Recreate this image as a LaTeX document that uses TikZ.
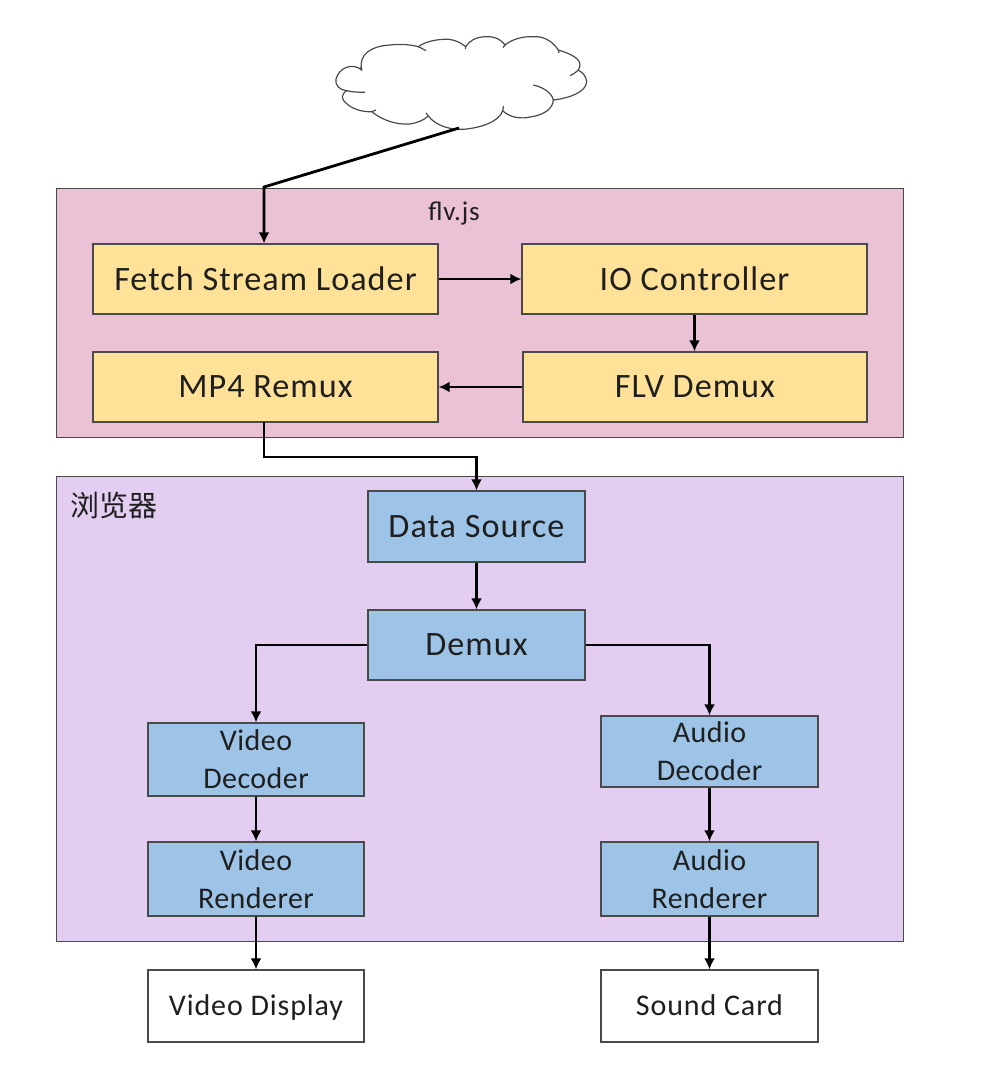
\documentclass[tikz,border=0pt]{standalone}
\usepackage{fontspec}
\setmainfont{Carlito}
\newfontfamily\cjk{Noto Sans CJK SC}
\newfontfamily\wide[LetterSpace=3.0]{Carlito}
\newfontfamily\lesswide[LetterSpace=1.5]{Carlito}
\usetikzlibrary{arrows.meta}
\definecolor{panelpink}{HTML}{EBC1D6}
\definecolor{panelpurple}{HTML}{E3CEF1}
\definecolor{boxyellow}{HTML}{FFE298}
\definecolor{boxblue}{HTML}{9DC3E6}
\definecolor{edgegray}{HTML}{4A4A4A}
\definecolor{inkdark}{HTML}{1F1F1F}
\tikzset{
  x=1pt,y=-1pt,
  panel/.style={draw=edgegray,line width=1.3pt,inner sep=0pt,anchor=north west},
  block/.style={draw=edgegray,line width=1.3pt,inner sep=0pt,anchor=center,align=center,text=inkdark,
    font=\wide\fontsize{34.2}{38.5}\selectfont},
  twoline/.style={font=\lesswide\fontsize{30}{38}\selectfont},
  yellowblock/.style={block,fill=boxyellow},
  blueblock/.style={block,fill=boxblue},
  whiteblock/.style={block,fill=white,font=\wide\fontsize{30}{38}\selectfont,text height=19pt,text depth=0pt},
  link/.style={draw=black,line width=2.8pt,-{Latex[length=11pt,width=11pt]}},
  cloudline/.style={draw=edgegray,line width=1.2pt},
}
\begin{document}
\begin{tikzpicture}
\useasboundingbox (0,0) rectangle (1004,1072);
\fill[white] (0,0) rectangle (1004,1072);
% panels
\node[panel,fill=panelpink,minimum width=847pt,minimum height=249pt] (flvpanel) at (56,188) {};
\node[panel,fill=panelpurple,minimum width=847pt,minimum height=465pt] (browser) at (56,476) {};
\node[text=inkdark,font=\wide\fontsize{27}{30}\selectfont] (flvlabel) at (454,214) {flv.js};
\node[text=inkdark,font=\cjk\fontsize{29}{32}\selectfont] (browserlabel) at (113.5,505.5) {浏览器};
% cloud
\filldraw[cloudline,fill=white] (361.7,70)
 .. controls (352,62) and (339,68) .. (336,79)
 .. controls (335,86) and (340,90) .. (346.7,90.7)
 .. controls (340,95) and (342,100) .. (346,103)
 .. controls (352,109) and (362,112) .. (371.7,111.7)
 .. controls (382,120) and (396,125) .. (410,124)
 .. controls (416,123) and (423,121) .. (428.3,116)
 .. controls (436,126) and (451,130) .. (463.3,129.3)
 .. controls (480,128) and (499,122) .. (502.7,110.7)
 .. controls (510,118) and (522,119) .. (530,117)
 .. controls (545,115) and (553,108) .. (553.3,100)
 .. controls (570,98) and (586,92) .. (586.7,81.7)
 .. controls (586,76) and (583,73) .. (578.3,70)
 .. controls (583,62) and (578,56) .. (558.3,50)
 .. controls (552,40) and (542,36) .. (533.3,36.7)
 .. controls (522,36) and (511,40) .. (505,45)
 .. controls (500,38) and (492,36) .. (485,36.7)
 .. controls (476,37) and (469,41) .. (465.7,46.7)
 .. controls (459,41) and (450,38.5) .. (443.3,39.3)
 .. controls (432,40) and (423,43) .. (418.3,46.7)
 .. controls (408,44) and (398,44) .. (390,45)
 .. controls (372,46) and (358,54) .. (361.7,70) -- cycle;
\draw[cloudline] (346.7,90.7) .. controls (352,92) and (358,92.3) .. (365,92.3);
\draw[cloudline] (361.7,70) -- (360.5,67);
\draw[cloudline] (418.3,46.7) .. controls (421,48) and (424,49.5) .. (426,50.7);
\draw[cloudline] (465.7,46.7) -- (465.5,49);
\draw[cloudline] (505,45) -- (503,47.5);
\draw[cloudline] (558.3,50) -- (559,53);
\draw[cloudline] (578.3,70) .. controls (575,73) and (573,74.5) .. (570,75.7);
\draw[cloudline] (553.3,100) .. controls (552,93) and (543,87) .. (533.3,85);
\draw[cloudline] (502.7,110.7) -- (503.5,106);
\draw[cloudline] (428.3,116) -- (426,113);
\draw[cloudline] (371.7,111.7) -- (376,110);
% boxes
\node[yellowblock,minimum width=345pt,minimum height=70pt] (fetch) at (265.5,279) {Fetch Stream Loader};
\node[yellowblock,minimum width=345pt,minimum height=70pt] (io) at (694.5,279) {IO Controller};
\node[yellowblock,minimum width=345pt,minimum height=70pt] (mp4) at (265.5,387) {MP4 Remux};
\node[yellowblock,minimum width=344pt,minimum height=70pt] (flv) at (695,387) {FLV Demux};
\node[blueblock,minimum width=217pt,minimum height=71pt] (source) at (476.5,526.5) {Data Source};
\node[blueblock,minimum width=217pt,minimum height=70pt] (demux) at (476.5,645) {Demux};
\node[blueblock,twoline,minimum width=216pt,minimum height=73pt] (vdec) at (256,759.5) {Video\\Decoder};
\node[blueblock,twoline,minimum width=216pt,minimum height=74pt] (vren) at (256,879) {Video\\Renderer};
\node[blueblock,twoline,minimum width=217pt,minimum height=71pt] (adec) at (709.5,751.5) {Audio\\Decoder};
\node[blueblock,twoline,minimum width=217pt,minimum height=74pt] (aren) at (709.5,879) {Audio\\Renderer};
\node[whiteblock,minimum width=216pt,minimum height=72pt] (vdisp) at (256,1006) {Video Display};
\node[whiteblock,minimum width=217pt,minimum height=72pt] (sound) at (709.5,1006) {Sound Card};
% connectors
\coordinate (cloudfoot) at (459,128);
\coordinate (bend) at (264,187);
\draw[link] (cloudfoot) -- (bend) -- (fetch.north -| bend);
\draw[link] (fetch) -- (io);
\draw[link] (io) -- (io |- flv.north);
\draw[link] (flv) -- (mp4);
\coordinate (mp4out) at (264,422);
\coordinate (midrun) at (264,457);
\draw[link] (mp4out) -- (midrun) -- (midrun -| source) -- (source.north);
\draw[link] (source) -- (demux);
\draw[link] (demux.west) -| (vdec.north);
\draw[link] (demux.east) -| (adec.north);
\draw[link] (vdec) -- (vren);
\draw[link] (adec) -- (aren);
\draw[link] (vren) -- (vdisp);
\draw[link] (aren) -- (sound);
\end{tikzpicture}
\end{document}
